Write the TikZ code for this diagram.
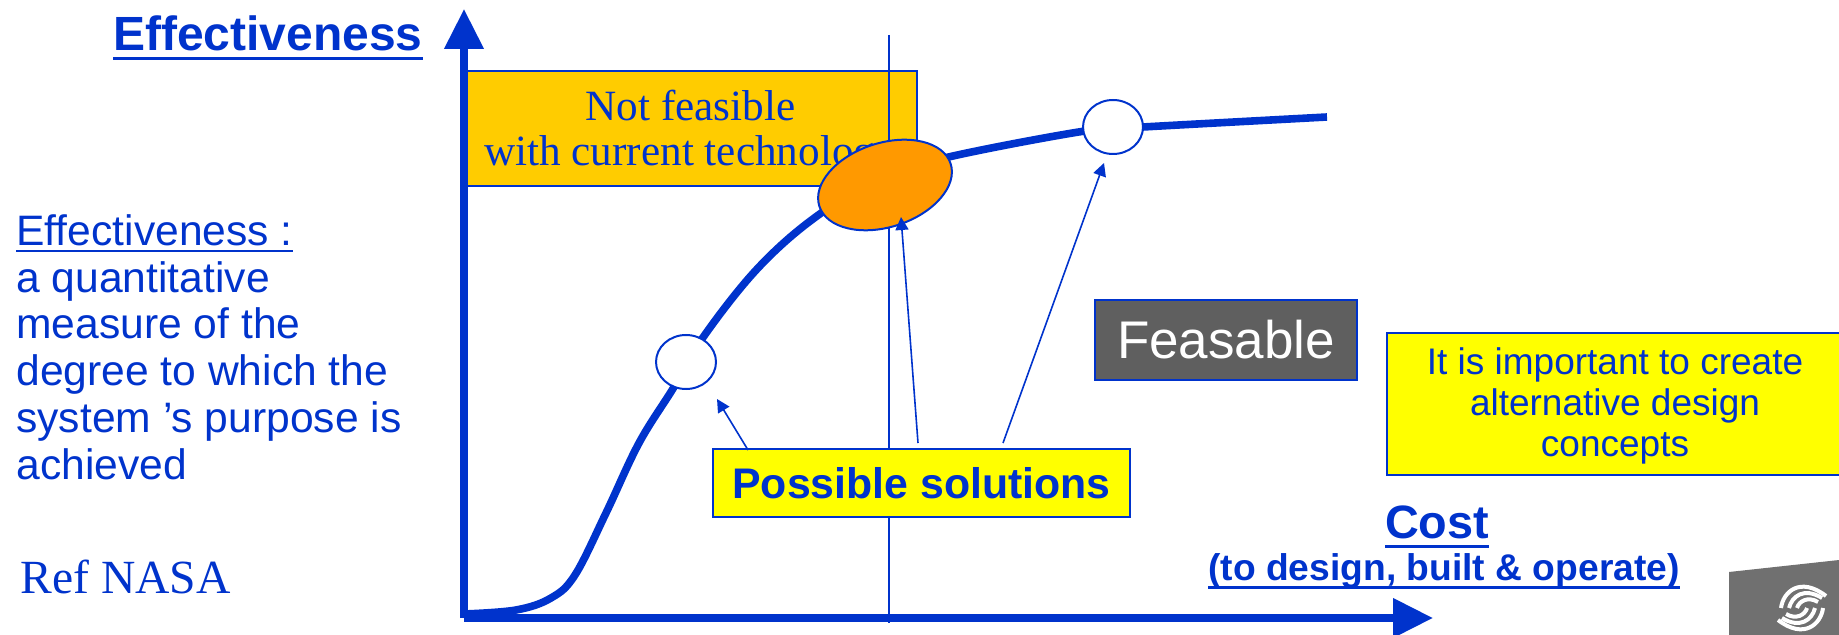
\documentclass[tikz,border=0pt]{standalone}
\usepackage{fontspec}
\setmainfont{Liberation Sans}
\newfontfamily\serifface{Liberation Serif}
\usepackage{xcolor}
\usetikzlibrary{shapes,arrows.meta,positioning}
\definecolor{nasablue}{HTML}{0033CC}
\definecolor{amberfill}{HTML}{FFCC00}
\definecolor{orangefill}{HTML}{FF9900}
\definecolor{yellowfill}{HTML}{FFFF00}
\definecolor{greyfill}{HTML}{5F5F5F}
\definecolor{logogrey}{HTML}{707070}
\newsavebox{\ulsave}
\newcommand{\thickul}[1]{\sbox{\ulsave}{#1}\usebox{\ulsave}\kern-\wd\ulsave\vrule width \wd\ulsave height -3pt depth 4.4pt}
\newcommand{\thinul}[1]{\sbox{\ulsave}{#1}\usebox{\ulsave}\kern-\wd\ulsave\vrule width \wd\ulsave height -2.6pt depth 3.5pt}

\begin{document}
\begin{tikzpicture}[x=0.5pt, y=-0.5pt, every node/.style={text=nasablue, inner sep=0pt}]
% Define styles
\tikzstyle{axis} = [line width=3.7pt, draw=nasablue, -{Triangle[length=20pt,width=19pt]}]
\tikzstyle{curve} = [line width=3.8pt, draw=nasablue]
\tikzstyle{arrow} = [line width=0.8pt, draw=nasablue, -{Triangle[length=6.5pt,width=6.5pt]}]
\tikzstyle{box} = [rectangle, draw=nasablue, line width=1pt, anchor=north west]
\tikzstyle{solution} = [ellipse, draw=nasablue, line width=1pt, fill=white, minimum width=30pt, minimum height=27pt]

\useasboundingbox (0,0) rectangle (1839,635);

% Place coordinates
\coordinate (origin) at (464,618);
\coordinate (ytip) at (464,9);
\coordinate (xtip) at (1433,618);
\coordinate (limittop) at (889,35);
\coordinate (limitbottom) at (889,623);

% Boxes and curve below the axes
\node (notfeasible) [box, fill=amberfill, minimum width=226.5pt, minimum height=57.5pt, align=center, font=\serifface\fontsize{21.6}{22.5}\selectfont] at (463,70) {\rule{0pt}{19.5pt}Not feasible\\with current technology};
\draw [curve] plot [smooth, tension=0.6] coordinates {(464,614) (516,610) (551,598) (575,575) (606,513) (639,443) (674,387) (704,336) (758,268) (817,216) (885,176) (953,156) (1085,131) (1143,127) (1327,117)};
\draw [axis] (origin) -- (ytip);
\draw [axis] (origin) -- (xtip);
\draw [nasablue, line width=1pt] (limittop) -- (limitbottom);

% Place nodes
\node (optimum) [ellipse, draw=nasablue, line width=1pt, fill=orangefill, minimum width=69pt, minimum height=42pt, rotate=18] at (885,185) {};
\node (lowsolution) [solution] at (686,362) {};
\node (highsolution) [solution] at (1113,127) {};
\node (solutions) [box, fill=yellowfill, minimum width=208.5pt, minimum height=34pt, font=\bfseries\fontsize{21.4}{25}\selectfont] at (712,448) {Possible solutions};
\node (feasable) [box, fill=greyfill, text=white, minimum width=131pt, minimum height=40pt, font=\fontsize{26.5}{30}\selectfont] at (1094,299) {Feasable};
\node (advice) [box, fill=yellowfill, minimum width=228pt, minimum height=71pt, align=center, font=\fontsize{18.5}{20.5}\selectfont] at (1386,332) {\rule{0pt}{15pt}It is important to create\\alternative design\\concepts};
\node (effectiveness) [anchor=east, font=\bfseries\fontsize{24}{28}\selectfont] at (423,38) {\thickul{Effectiveness}};
\node (definition) [anchor=north west, align=left, font=\fontsize{21.3}{23.4}\selectfont] at (16,214) {\thinul{Effectiveness :}\\a quantitative\\measure of the\\degree to which the\\system 's purpose is\\achieved};
\node (ref) [anchor=west, font=\serifface\fontsize{23.8}{28}\selectfont] at (20,577) {Ref NASA};
\node (cost) [font=\bfseries\fontsize{23.4}{28}\selectfont] at (1437,527) {\thickul{Cost}};
\node (costnote) [font=\bfseries\fontsize{18.6}{22}\selectfont] at (1444,571) {\thickul{(to design, built \& operate)}};

% Draw arrows
\coordinate (lowstart) at (748,450);
\coordinate (lowtip) at (717,399);
\coordinate (midstart) at (918,443);
\coordinate (midtip) at (901,217);
\coordinate (highstart) at (1003,443);
\coordinate (hightip) at (1104,163);
\draw [arrow] (lowstart) -- (lowtip);
\draw [arrow] (midstart) -- (midtip);
\draw [arrow] (highstart) -- (hightip);

% Logo
\fill [logogrey] (1729,572) -- (1839,560) -- (1839,635) -- (1729,635) -- cycle;
\foreach \turn in {0,180} {
  \begin{scope}[rotate around={\turn:(1802,608)}, white, line width=2pt]
    \draw (1781,608) .. controls (1783,592) and (1800,576) .. (1826,596);
    \draw (1789,608) .. controls (1792,596) and (1804,587) .. (1822,598);
    \draw (1797,608) .. controls (1799,601) and (1808,596) .. (1818,602);
  \end{scope}
}
\end{tikzpicture}
\end{document}
